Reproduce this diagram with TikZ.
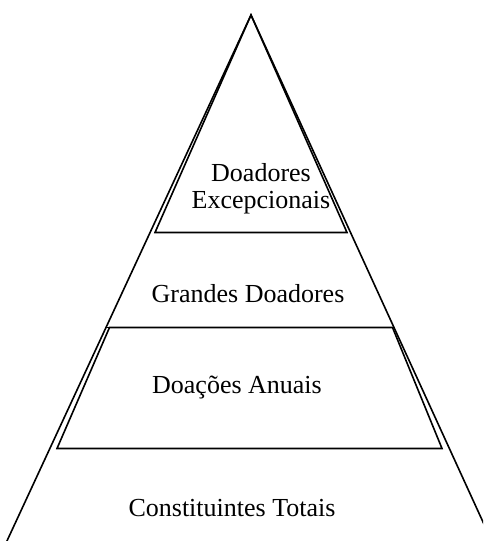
\documentclass[tikz,border=0pt]{standalone}
\usepackage{fontspec}
\setmainfont{Liberation Serif}
\usetikzlibrary{calc}
\begin{document}
\begin{tikzpicture}[x=1pt,y=-1pt,
  edge/.style={line width=1.6pt,line join=miter},
  label/.style={font=\fontsize{26}{27}\selectfont,align=center,inner sep=0pt}]
\useasboundingbox (0,0) rectangle (483,541);
\clip (0,0) rectangle (483,541);
% apex and outer flanks of the pyramid
\coordinate (apex) at (251,15);
\coordinate (outerL) at ($(apex)!1.9!(106,327.5)$);
\coordinate (outerR) at ($(apex)!1.9!(394,327.5)$);
\draw[edge] (outerL) -- (apex) -- (outerR);
% top tier
\coordinate (topL) at (155,232.5);
\coordinate (topR) at (347,232.5);
\draw[edge] (apex) -- (topL) -- (topR) -- cycle;
% divider below the second tier
\coordinate (midL) at (106,327.5);
\coordinate (midR) at (394,327.5);
\draw[edge] (midL) -- (midR);
% third tier
\coordinate (annTL) at (109.5,327.5);
\coordinate (annTR) at (392.5,327.5);
\coordinate (annBL) at (57,448.5);
\coordinate (annBR) at (442,448.5);
\draw[edge] (annTR) -- (annTL) -- (annBL) -- (annBR) -- cycle;
% tier labels
\node[label] (t1) at (261,189) {Doadores\\Excepcionais};
\node[label] (t2) at (248,294) {Grandes Doadores};
\node[label] (t3) at (237,388) {Doações Anuais};
\node[label] (t4) at (232,508) {Constituintes Totais};
\end{tikzpicture}
\end{document}
